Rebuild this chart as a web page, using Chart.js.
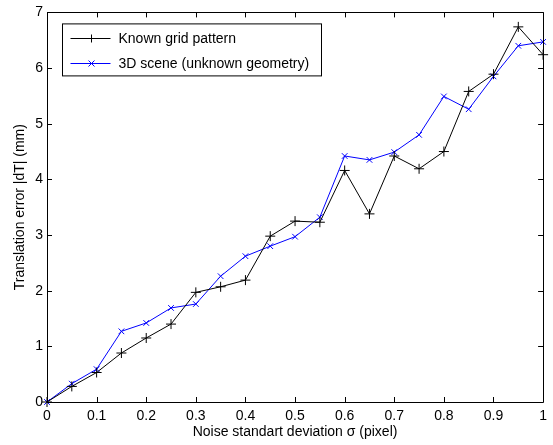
<!DOCTYPE html>
<html>
<head>
<meta charset="utf-8">
<script src="https://cdn.jsdelivr.net/npm/chart.js@4/dist/chart.umd.min.js"></script>
<style>
  html, body { margin: 0; padding: 0; background: #fff; }
  #wrap { width: 553px; height: 445px; }
</style>
</head>
<body>
<div id="wrap"><canvas id="noiseChart"></canvas></div>
<script>
// noise sigma (pixel)
const sigma = [0, 0.05, 0.1, 0.15, 0.2, 0.25, 0.3, 0.35, 0.4, 0.45, 0.5,
               0.55, 0.6, 0.65, 0.7, 0.75, 0.8, 0.85, 0.9, 0.95, 1.0];
const knownGrid = [0, 0.28, 0.53, 0.88, 1.15, 1.40, 1.97, 2.07, 2.19, 2.98, 3.25,
                   3.23, 4.16, 3.38, 4.42, 4.19, 4.50, 5.58, 5.89, 6.74, 6.24];
const scene3d = [0, 0.33, 0.59, 1.27, 1.42, 1.69, 1.76, 2.26, 2.62, 2.80, 2.97,
                 3.32, 4.42, 4.35, 4.49, 4.80, 5.49, 5.26, 5.85, 6.40, 6.47];
const seriesNames = ['Known grid pattern', '3D scene (unknown geometry)'];
const xTicks = [0, 0.1, 0.2, 0.3, 0.4, 0.5, 0.6, 0.7, 0.8, 0.9, 1];
const yTicks = [0, 1, 2, 3, 4, 5, 6, 7];

const FONT = 'Liberation Sans, Arial, Helvetica, sans-serif';

function pts(xs, ys) {
  return xs.map((x, i) => ({ x: x, y: ys[i] }));
}

// matlab style box with inward ticks
const boxPlugin = {
  id: 'matlabBox',
  afterDatasetsDraw(chart) {
    const { ctx, chartArea: a, scales: { x, y } } = chart;
    const tl = 5;
    ctx.save();
    ctx.strokeStyle = '#000';
    ctx.lineWidth = 1;
    ctx.beginPath();
    ctx.rect(Math.round(a.left) + 0.5, Math.round(a.top) + 0.5,
             Math.round(a.right - a.left), Math.round(a.bottom - a.top));
    xTicks.forEach(v => {
      const px = Math.round(x.getPixelForValue(v)) + 0.5;
      ctx.moveTo(px, a.bottom); ctx.lineTo(px, a.bottom - tl);
      ctx.moveTo(px, a.top); ctx.lineTo(px, a.top + tl);
    });
    yTicks.forEach(v => {
      const py = Math.round(y.getPixelForValue(v)) + 0.5;
      ctx.moveTo(a.left, py); ctx.lineTo(a.left + tl, py);
      ctx.moveTo(a.right, py); ctx.lineTo(a.right - tl, py);
    });
    ctx.stroke();
    ctx.restore();
  },
  afterDraw(chart) {
    // legend box in upper left
    const { ctx, chartArea: a } = chart;
    const bx = a.left + 15.5, by = a.top + 11.5, bw = 259, bh = 52;
    ctx.save();
    ctx.fillStyle = '#fff';
    ctx.fillRect(bx, by, bw, bh);
    ctx.strokeStyle = '#000';
    ctx.lineWidth = 1;
    ctx.strokeRect(bx, by, bw, bh);
    ctx.font = '14px ' + FONT;
    ctx.textBaseline = 'middle';
    chart.data.datasets.forEach((ds, i) => {
      const ly = Math.round(by + 14 + i * 25) + 0.5;
      ctx.strokeStyle = ds.borderColor;
      ctx.beginPath();
      ctx.moveTo(bx + 8, ly); ctx.lineTo(bx + 48, ly);
      const cx = bx + 29, r = 4;
      if (ds.pointStyle === 'cross') {
        ctx.moveTo(cx - r, ly); ctx.lineTo(cx + r, ly);
        ctx.moveTo(cx, ly - r); ctx.lineTo(cx, ly + r);
      } else {
        ctx.moveTo(cx - 3, ly - 3); ctx.lineTo(cx + 3, ly + 3);
        ctx.moveTo(cx - 3, ly + 3); ctx.lineTo(cx + 3, ly - 3);
      }
      ctx.stroke();
      ctx.fillStyle = '#000';
      ctx.fillText(ds.label, bx + 56, ly + 1);
    });
    ctx.restore();
  }
};

new Chart(document.getElementById('noiseChart'), {
  type: 'line',
  data: {
    datasets: [
      {
        label: seriesNames[0],
        data: pts(sigma, knownGrid),
        borderColor: '#000000',
        borderWidth: 1,
        pointStyle: 'cross',
        pointRadius: 5,
        pointBorderWidth: 1,
        pointBorderColor: '#000000',
        pointBackgroundColor: '#000000',
        tension: 0,
        clip: false
      },
      {
        label: seriesNames[1],
        data: pts(sigma, scene3d),
        borderColor: '#0000ff',
        borderWidth: 1,
        pointStyle: 'crossRot',
        pointRadius: 4,
        pointBorderWidth: 1,
        pointBorderColor: '#0000ff',
        pointBackgroundColor: '#0000ff',
        tension: 0,
        clip: false
      }
    ]
  },
  options: {
    responsive: true,
    maintainAspectRatio: false,
    animation: false,
    layout: { padding: { top: 10, right: 8, left: 0, bottom: 0 } },
    plugins: {
      legend: { display: false },
      tooltip: { enabled: false }
    },
    scales: {
      x: {
        type: 'linear',
        min: 0, max: 1,
        afterFit: s => { s.height = 43; },
        afterBuildTicks: s => { s.ticks = xTicks.map(v => ({ value: v })); },
        grid: { display: false, drawTicks: false },
        border: { display: false },
        ticks: {
          color: '#000',
          padding: 6,
          maxRotation: 0,
          autoSkip: false,
          font: { family: FONT, size: 14 },
          callback: v => String(v)
        },
        title: {
          display: true,
          text: 'Noise standart deviation σ (pixel)',
          color: '#000',
          padding: { top: 0, bottom: 4 },
          font: { family: FONT, size: 14 }
        }
      },
      y: {
        type: 'linear',
        min: 0, max: 7,
        afterFit: s => { s.width = 47; },
        afterBuildTicks: s => { s.ticks = yTicks.map(v => ({ value: v })); },
        grid: { display: false, drawTicks: false },
        border: { display: false },
        ticks: {
          color: '#000',
          padding: 4,
          font: { family: FONT, size: 14 }
        },
        title: {
          display: true,
          text: 'Translation error |dT| (mm)',
          color: '#000',
          padding: { top: 12, bottom: 0 },
          font: { family: FONT, size: 14 }
        }
      }
    }
  },
  plugins: [boxPlugin]
});
</script>
</body>
</html>
